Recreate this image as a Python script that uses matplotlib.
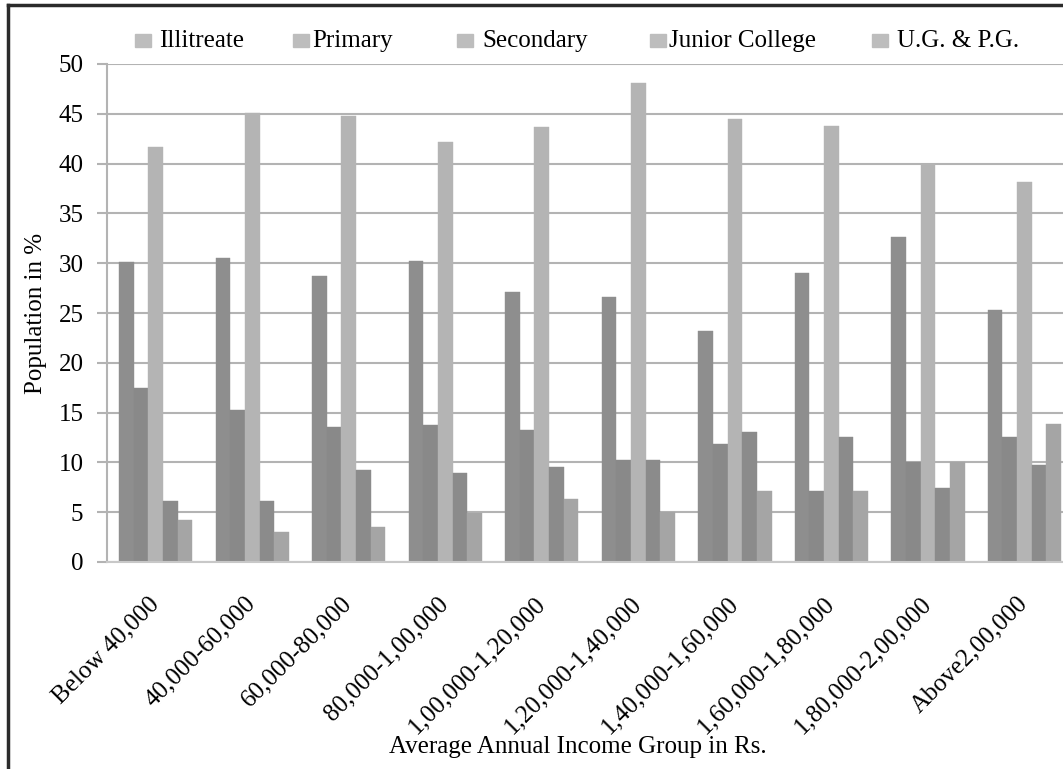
import numpy as np
import matplotlib
matplotlib.use("Agg")
import matplotlib.pyplot as plt
import matplotlib.transforms as mtransforms
from matplotlib.patches import Rectangle
from matplotlib.lines import Line2D

plt.rcParams["font.family"] = ["Liberation Serif", "DejaVu Serif"]
plt.rcParams["font.size"] = 18

groups = ["Below 40,000", "40,000-60,000", "60,000-80,000", "80,000-1,00,000",
          "1,00,000-1,20,000", "1,20,000-1,40,000", "1,40,000-1,60,000",
          "1,60,000-1,80,000", "1,80,000-2,00,000", "Above2,00,000"]
series = ["Illitreate", "Primary", "Secondary", "Junior College", "U.G. & P.G."]

illiterate = [30.1, 30.5, 28.7, 30.2, 27.1, 26.6, 23.2, 29.0, 32.6, 25.3]
primary = [17.5, 15.3, 13.6, 13.8, 13.3, 10.2, 11.8, 7.1, 10.0, 12.6]
secondary = [41.7, 45.1, 44.8, 42.2, 43.7, 48.1, 44.5, 43.8, 40.0, 38.2]
junior = [6.1, 6.1, 9.2, 8.9, 9.5, 10.2, 13.1, 12.6, 7.4, 9.7]
ug_pg = [4.2, 3.0, 3.5, 4.9, 6.3, 5.0, 7.1, 7.1, 10.0, 13.9]

values = [illiterate, primary, secondary, junior, ug_pg]
colors = ["#8e8e8e", "#898989", "#b4b4b4", "#8b8b8b", "#a5a5a5"]

W, H = 1063, 769
fig = plt.figure(figsize=(W / 100, H / 100), dpi=100)
ax = fig.add_axes([107 / W, 1 - 562 / H, 1 - 107 / W, (562 - 64) / H])

x = np.arange(len(groups))
bw = 0.152
for i, (vals, c) in enumerate(zip(values, colors)):
    ax.bar(x + (i - 2) * bw, vals, width=bw, color=c, edgecolor=c, linewidth=0.3)

ax.set_xlim(-0.505, 9.40)
ax.set_ylim(0, 50)
ax.set_yticks(range(0, 51, 5))
ax.yaxis.grid(True, color="#b3b3b3", linewidth=1.5)
ax.set_axisbelow(True)

ax.set_xticks(x)
ax.set_xticklabels(groups, rotation=45, ha="right", rotation_mode="anchor")
ax.tick_params(axis="x", length=0, pad=22)
ax.tick_params(axis="y", length=7, width=1.5, color="#b3b3b3", pad=10)
# nudge the slanted labels a little to the left
shift = mtransforms.ScaledTranslation(-8 / 100, 0, fig.dpi_scale_trans)
for lab in ax.get_xticklabels():
    lab.set_transform(lab.get_transform() + shift)

for s in ["top", "right"]:
    ax.spines[s].set_visible(False)
ax.spines["left"].set_color("#b3b3b3")
ax.spines["left"].set_linewidth(1.5)
ax.spines["bottom"].set_color("#c8c8c8")
ax.spines["bottom"].set_linewidth(1.5)

ax.set_ylabel("Population in %", labelpad=8)
fig.text(578 / W, 1 - 747 / H, "Average Annual Income Group in Rs.",
         ha="center", va="center")

# legend drawn by hand along the top
sq_x = [135, 293, 457, 650, 872]
txt_x = [159, 312, 482, 669, 897]
for name, sx, tx in zip(series, sq_x, txt_x):
    fig.add_artist(Rectangle((sx / W, 1 - 47 / H), 16 / W, 13 / H,
                             transform=fig.transFigure, color="#bdbdbd"))
    fig.text(tx / W, 1 - 41 / H, name, ha="left", va="center")

# outer frame (clipped at right and bottom)
fig.add_artist(Line2D([8 / W, 8 / W], [0, 1 - 5 / H], transform=fig.transFigure,
                      color="#2b2b2b", linewidth=2.5))
fig.add_artist(Line2D([8 / W, 1], [1 - 5 / H, 1 - 5 / H], transform=fig.transFigure,
                      color="#2b2b2b", linewidth=2.5))

fig.savefig("out.png", dpi=100)
